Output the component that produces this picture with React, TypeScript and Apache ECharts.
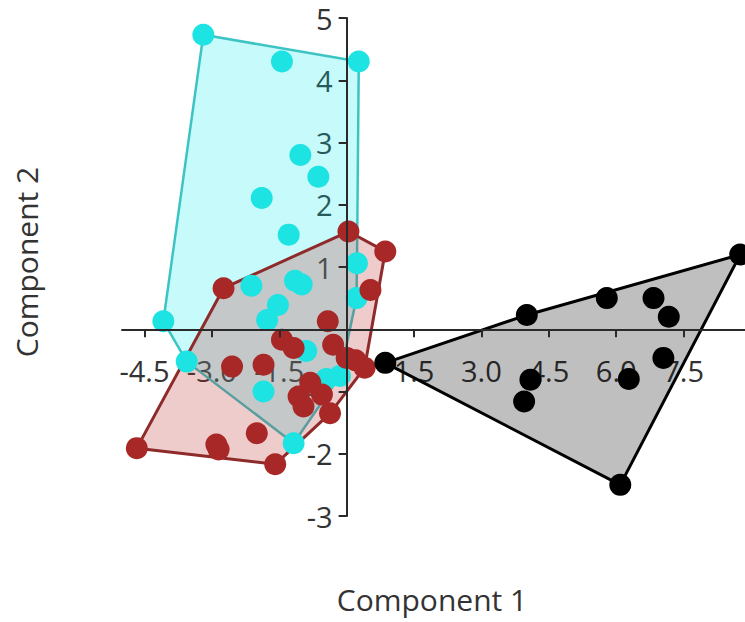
import React, { useEffect, useRef } from "react";
import * as echarts from "echarts";

// ---- data (Component 1, Component 2) ----
const cyanX = [-3.19, -1.44, 0.27, -1.03, -0.63, -1.89, -1.29, 0.23, -4.08, -3.56, -2.12, -1.15, -1.53, -1.77, -1.85, -1.18, 0.22, -0.9, -0.45, -0.15, -1.0];
const cyanY = [4.73, 4.3, 4.3, 2.8, 2.45, 2.11, 1.52, 1.06, 0.13, -0.52, 0.7, 0.78, 0.39, 0.15, -1.0, -1.83, 0.5, -0.35, -0.8, -0.75, 0.72];

const redX = [0.04, 0.86, 0.53, -2.74, -0.42, -1.44, -1.18, -0.3, 0.0, 0.4, 0.2, -2.55, -1.85, -0.81, -1.07, -0.96, -0.37, -2.0, -4.67, -2.85, -2.9, -1.59, -0.55];
const redY = [1.57, 1.25, 0.63, 0.66, 0.13, -0.17, -0.3, -0.25, -0.46, -0.62, -0.5, -0.6, -0.57, -0.86, -1.08, -1.24, -1.35, -1.67, -1.91, -1.93, -1.85, -2.17, -1.05];

const blackX = [8.76, 5.79, 6.83, 7.17, 4.01, 0.86, 7.05, 6.28, 4.09, 3.95, 6.09];
const blackY = [1.2, 0.5, 0.5, 0.2, 0.23, -0.54, -0.46, -0.8, -0.81, -1.16, -2.5];

const xTickValues = [-4.5, -3.0, -1.5, 1.5, 3.0, 4.5, 6.0, 7.5];
const yTickValues = [-3, -2, -1, 1, 2, 3, 4, 5];

const xTitle = "Component 1";
const yTitle = "Component 2";

const X_MIN = -5;
const X_MAX = 9;
const Y_MIN = -3;
const Y_MAX = 5;

function zip(xs: number[], ys: number[]): number[][] {
  return xs.map((x, i) => [x, ys[i]]);
}

function convexHull(pts: number[][]): number[][] {
  const p = pts.slice().sort((a, b) => (a[0] === b[0] ? a[1] - b[1] : a[0] - b[0]));
  const cross = (o: number[], a: number[], b: number[]) =>
    (a[0] - o[0]) * (b[1] - o[1]) - (a[1] - o[1]) * (b[0] - o[0]);
  const lower: number[][] = [];
  for (const q of p) {
    while (lower.length >= 2 && cross(lower[lower.length - 2], lower[lower.length - 1], q) <= 0) lower.pop();
    lower.push(q);
  }
  const upper: number[][] = [];
  for (let i = p.length - 1; i >= 0; i--) {
    const q = p[i];
    while (upper.length >= 2 && cross(upper[upper.length - 2], upper[upper.length - 1], q) <= 0) upper.pop();
    upper.push(q);
  }
  upper.pop();
  lower.pop();
  return lower.concat(upper);
}

const FONT = "'Open Sans', 'Noto Sans', sans-serif";
const AXIS_COLOR = "#2a2a2a";

export default function App() {
  const ref = useRef<HTMLDivElement>(null);
  useEffect(() => {
    if (!ref.current) return;
    const chart = echarts.init(ref.current, null, { renderer: "svg" });

    const gridLeft = 122;
    const gridTop = 18;
    const gridWidth = 629;
    const gridHeight = 498;
    // place the axes so they cross at the origin
    const yAxisOffset = -((0 - X_MIN) / (X_MAX - X_MIN)) * gridWidth;
    const xAxisOffset = -((0 - Y_MIN) / (Y_MAX - Y_MIN)) * gridHeight;

    const groups = [
      { name: "cyan", data: zip(cyanX, cyanY), color: "#1de3e3", fill: "rgba(0,232,232,0.22)", stroke: "#3cc4c4", lw: 2.5 },
      { name: "red", data: zip(redX, redY), color: "#a82828", fill: "rgba(190,40,40,0.24)", stroke: "#8e2a2a", lw: 3 },
      { name: "black", data: zip(blackX, blackY), color: "#000000", fill: "rgba(0,0,0,0.25)", stroke: "#000000", lw: 3 },
    ];

    const hullSeries = groups.map((g) => {
      const h = convexHull(g.data);
      return {
        type: "custom",
        name: g.name + "-hull",
        data: [[0, 0]],
        z: 1,
        silent: true,
        renderItem: (_params: any, api: any) => ({
          type: "polygon",
          shape: { points: h.map((p) => api.coord(p)) },
          style: { fill: g.fill, stroke: g.stroke, lineWidth: g.lw, lineJoin: "round" },
        }),
      };
    });

    const pointSeries = groups.map((g, i) => ({
      type: "scatter",
      name: g.name,
      data: g.data,
      symbolSize: 22,
      z: 3 + i,
      itemStyle: { color: g.color, opacity: 1 },
    }));

    const xBase = {
      type: "value",
      min: X_MIN,
      max: X_MAX,
      position: "bottom",
      offset: xAxisOffset,
      splitLine: { show: false },
    };
    const yBase = {
      type: "value",
      min: Y_MIN,
      max: Y_MAX,
      interval: 1,
      position: "left",
      offset: yAxisOffset,
      splitLine: { show: false },
    };

    chart.setOption({
      animation: false,
      backgroundColor: "#ffffff",
      grid: { left: gridLeft, top: gridTop, width: gridWidth, height: gridHeight, outerBoundsMode: "none", containLabel: false },
      xAxis: [
        {
          ...xBase,
          z: 0,
          axisLine: { show: false, onZero: false },
          axisTick: { show: false },
          axisLabel: {
            customValues: xTickValues,
            formatter: (v: number) => v.toFixed(1),
            color: "#333333",
            fontSize: 29,
            fontFamily: FONT,
            margin: 27,
          },
        },
        {
          ...xBase,
          z: 10,
          axisLine: { show: true, onZero: false, lineStyle: { color: AXIS_COLOR, width: 2 } },
          axisTick: { show: true, length: 8, customValues: xTickValues, lineStyle: { color: AXIS_COLOR, width: 2 } },
          axisLabel: { show: false },
        },
      ],
      yAxis: [
        {
          ...yBase,
          z: 0,
          axisLine: { show: false, onZero: false },
          axisTick: { show: false },
          axisLabel: {
            customValues: yTickValues,
            formatter: (v: number) => String(v),
            color: "#333333",
            fontSize: 29,
            fontFamily: FONT,
            margin: 14,
          },
        },
        {
          ...yBase,
          z: 10,
          axisLine: { show: true, onZero: false, lineStyle: { color: AXIS_COLOR, width: 2 } },
          axisTick: { show: true, length: 8, customValues: yTickValues, lineStyle: { color: AXIS_COLOR, width: 2 } },
          axisLabel: { show: false },
        },
      ],
      graphic: [
        {
          type: "text",
          x: 432,
          y: 599,
          style: { text: xTitle, fill: "#333333", font: `30px ${FONT}`, textAlign: "center", textVerticalAlign: "middle" },
        },
        {
          type: "text",
          x: 26,
          y: 262,
          rotation: Math.PI / 2,
          style: { text: yTitle, fill: "#333333", font: `30px ${FONT}`, textAlign: "center", textVerticalAlign: "middle" },
        },
      ],
      series: [...hullSeries, ...pointSeries],
    });

    return () => chart.dispose();
  }, []);

  return <div ref={ref} style={{ position: "fixed", left: 0, top: 0, width: 745, height: 622 }} />;
}
